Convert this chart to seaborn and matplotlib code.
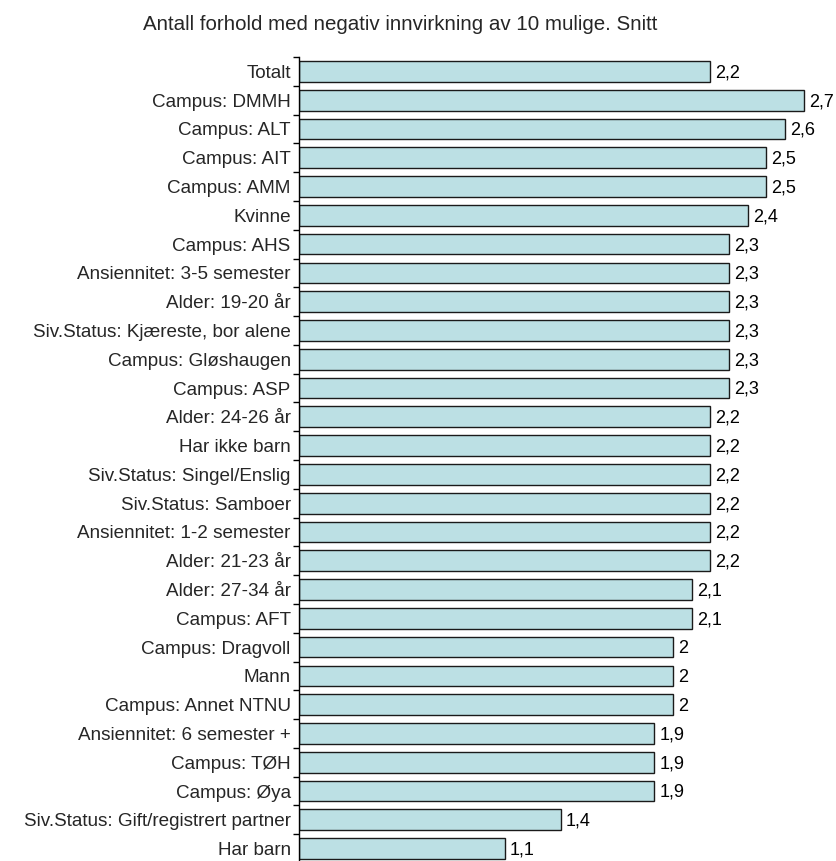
import matplotlib
matplotlib.use('Agg')
import matplotlib.pyplot as plt
import pandas as pd
import seaborn as sns


# categories and average values (top to bottom as in the reference)
groups = [
    'Totalt', 'Campus: DMMH', 'Campus: ALT', 'Campus: AIT', 'Campus: AMM',
    'Kvinne', 'Campus: AHS', 'Ansiennitet: 3-5 semester', 'Alder: 19-20 år',
    'Siv.Status: Kjæreste, bor alene', 'Campus: Gløshaugen', 'Campus: ASP',
    'Alder: 24-26 år', 'Har ikke barn', 'Siv.Status: Singel/Enslig',
    'Siv.Status: Samboer', 'Ansiennitet: 1-2 semester', 'Alder: 21-23 år',
    'Alder: 27-34 år', 'Campus: AFT', 'Campus: Dragvoll', 'Mann',
    'Campus: Annet NTNU', 'Ansiennitet: 6 semester +', 'Campus: TØH',
    'Campus: Øya', 'Siv.Status: Gift/registrert partner', 'Har barn',
]
snitt = [
    2.2, 2.7, 2.6, 2.5, 2.5,
    2.4, 2.3, 2.3, 2.3,
    2.3, 2.3, 2.3,
    2.2, 2.2, 2.2,
    2.2, 2.2, 2.2,
    2.1, 2.1, 2.0, 2.0,
    2.0, 1.9, 1.9,
    1.9, 1.4, 1.1,
]

title = 'Antall forhold med negativ innvirkning av 10 mulige. Snitt'

df = pd.DataFrame({'gruppe': groups, 'snitt': snitt})

sns.set_style('white')
plt.rcParams['font.family'] = ['Liberation Sans', 'DejaVu Sans']

fs = 13.6

fig = plt.figure(figsize=(8.36, 8.61), dpi=100)
# axes placed by hand to line up with the reference
ax = fig.add_axes([299 / 836, -2 / 861, 561 / 836, (861 - 57 + 2) / 861])

sns.barplot(data=df, x='snitt', y='gruppe', orient='h', color='#BCE0E4',
            saturation=1, edgecolor='#1a1a1a', linewidth=1.0, width=0.72, ax=ax)

ax.set_xlim(0, 3)
ax.set_ylim(len(groups) - 0.5, -0.5)

# value labels with comma decimals
for i, v in enumerate(snitt):
    lab = ('%.1f' % v).replace('.', ',')
    if lab.endswith(',0'):
        lab = lab[:-2]
    ax.text(v + 0.027, i + 0.05, lab, va='center', ha='left', fontsize=13, color='black')

ax.set_xlabel('')
ax.set_ylabel('')
ax.set_xticks([])
ax.tick_params(axis='y', which='major', length=0, labelsize=fs, pad=6)
ax.set_yticks([i + 0.5 for i in range(-1, len(groups))], minor=True)
ax.tick_params(axis='y', which='minor', left=True, length=4.5, width=1,
               color='black', direction='out')

for s in ['top', 'right', 'bottom']:
    ax.spines[s].set_visible(False)
ax.spines['left'].set_color('black')
ax.spines['left'].set_linewidth(1)

# title: stretch the font size so the text spans about the same width
t = fig.text(400 / 836, 1 - 25 / 861, title, ha='center', va='center', fontsize=12)
fig.canvas.draw()
w = t.get_window_extent().width
t.set_fontsize(12 * 516 / w)

plt.savefig('out.png', dpi=100)
